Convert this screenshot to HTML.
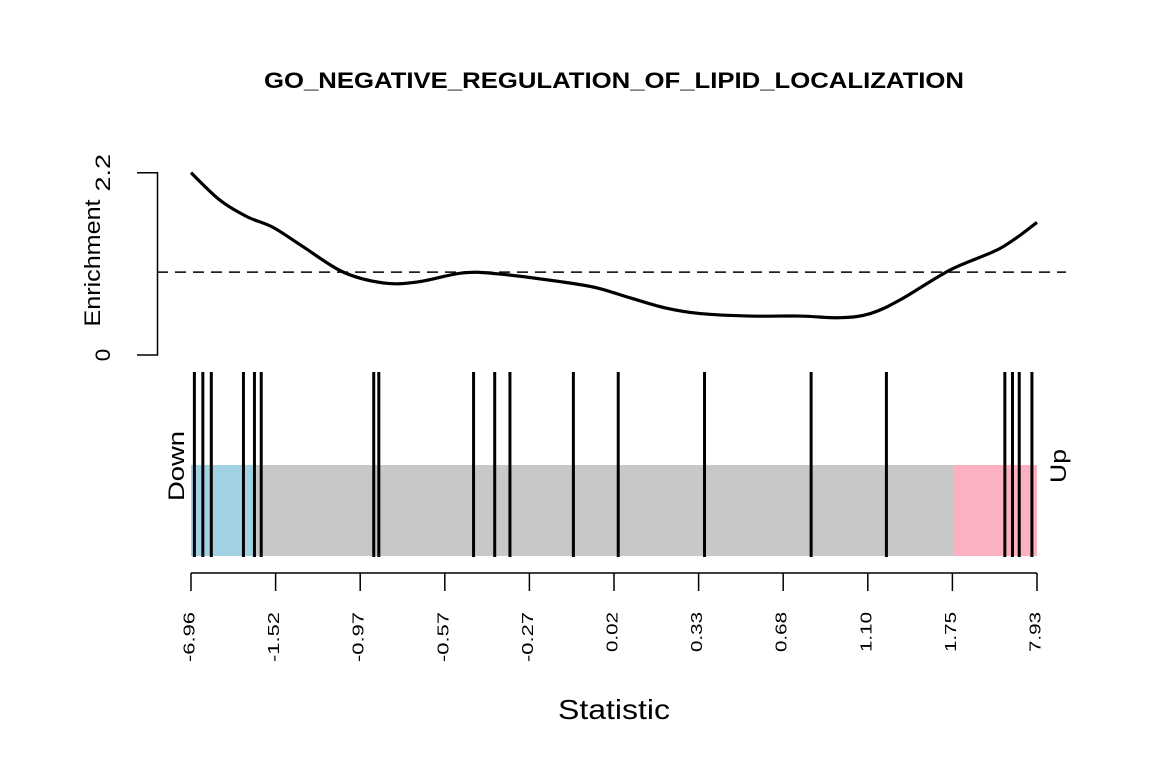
<!DOCTYPE html>
<html><head><meta charset="utf-8"><style>
html,body{margin:0;padding:0;background:#fff;}
svg{display:block;font-family:"Liberation Sans",Arial,sans-serif;}
</style></head><body>
<svg id="chart" width="1152" height="768" viewBox="0 0 1152 768">
<text x="614" y="88" font-size="22" font-weight="bold" text-anchor="middle" textLength="700" lengthAdjust="spacingAndGlyphs">GO_NEGATIVE_REGULATION_OF_LIPID_LOCALIZATION</text>
<g id="topPanel"></g>
<g id="botPanel"></g>
<text x="614" y="719" font-size="28" text-anchor="middle" textLength="112" lengthAdjust="spacingAndGlyphs">Statistic</text>
</svg>
<script>
const curveX = [0,0.034,0.066,0.097,0.132,0.180,0.227,0.267,0.321,0.362,0.440,0.480,0.519,0.560,0.602,0.661,0.720,0.768,0.803,0.839,0.898,0.957,1.0];
const curveY = [2.20,1.87,1.67,1.54,1.31,1.00,0.87,0.88,0.99,0.98,0.88,0.81,0.69,0.57,0.50,0.47,0.47,0.45,0.50,0.67,1.03,1.29,1.60];
const barcodePos = [0.004,0.014,0.024,0.062,0.075,0.083,0.216,0.222,0.334,0.359,0.377,0.452,0.505,0.607,0.733,0.822,0.962,0.971,0.979,0.994];
const downEnd = [0.074];
const upStart = [0.902];
const tickLabels = ["-6.96","-1.52","-0.97","-0.57","-0.27","0.02","0.33","0.68","1.10","1.75","7.93"];
const yTicks = [0,2.2];
const refLine = [1];

const NS="http://www.w3.org/2000/svg";
const X0=191,X1=1037;
const sx=f=>X0+f*(X1-X0);
const sy=v=>355-v*(182.3/2.2);
function mk(parent,tag,attrs){const e=document.createElementNS(NS,tag);for(const k in attrs)e.setAttribute(k,attrs[k]);parent.appendChild(e);return e;}
const topG=document.getElementById('topPanel'), botG=document.getElementById('botPanel');

let ax=mk(topG,'path',{d:`M137 ${sy(yTicks[1])}H157.5V${sy(yTicks[0])}H137`,fill:'none',stroke:'#000','stroke-width':1.5});


yTicks.forEach(v=>{
  const s=String(v);
  const t=mk(topG,'text',{transform:`translate(110,${sy(v)}) rotate(-90)`,'font-size':21,'text-anchor':'middle',textLength:s.length*12.5,lengthAdjust:'spacingAndGlyphs'});
  t.textContent=s;
  
  
});
let yt=mk(topG,'text',{transform:'translate(100,263) rotate(-90)','font-size':22,'text-anchor':'middle',textLength:127,lengthAdjust:'spacingAndGlyphs'});
yt.textContent='Enrichment';



let rl=mk(topG,'line',{x1:157,x2:1066,y1:sy(refLine[0]),y2:sy(refLine[0]),stroke:'#000','stroke-width':1.5,'stroke-dasharray':'11 7'});



const pts=curveX.map((f,i)=>[sx(f),sy(curveY[i])]);
let d=`M${pts[0][0]} ${pts[0][1]}`;
for(let i=0;i<pts.length-1;i++){
  const p0=pts[Math.max(0,i-1)],p1=pts[i],p2=pts[i+1],p3=pts[Math.min(pts.length-1,i+2)];
  d+=` C${p1[0]+(p2[0]-p0[0])/6} ${p1[1]+(p2[1]-p0[1])/6} ${p2[0]-(p3[0]-p1[0])/6} ${p2[1]-(p3[1]-p1[1])/6} ${p2[0]} ${p2[1]}`;
}
let cv=mk(topG,'path',{d:d,fill:'none',stroke:'#000','stroke-width':3.2,'stroke-linejoin':'round'});



let g=mk(botG,'rect',{x:X0,y:465,width:X1-X0,height:91,fill:'#c8c8c8'});


let b=mk(botG,'rect',{x:X0,y:465,width:sx(downEnd[0])-X0,height:91,fill:'#a1d2e3'});


let p=mk(botG,'rect',{x:sx(upStart[0]),y:465,width:X1-sx(upStart[0]),height:91,fill:'#fdb0c0'});


barcodePos.forEach(f=>{
  const l=mk(botG,'line',{x1:sx(f),x2:sx(f),y1:372,y2:557,stroke:'#000','stroke-width':3});
  
  
});
let dn=mk(botG,'text',{transform:'translate(184,466) rotate(-90)','font-size':22,'text-anchor':'middle',textLength:70,lengthAdjust:'spacingAndGlyphs'});
dn.textContent='Down';


let up=mk(botG,'text',{transform:'translate(1066,466) rotate(-90)','font-size':22,'text-anchor':'middle',textLength:34,lengthAdjust:'spacingAndGlyphs'});
up.textContent='Up';



let xa=mk(botG,'line',{x1:X0,x2:X1,y1:573,y2:573,stroke:'#000','stroke-width':1.5});


tickLabels.forEach((lab,i)=>{
  const x=sx(i/(tickLabels.length-1));
  const tk=mk(botG,'line',{x1:x,x2:x,y1:573,y2:591,stroke:'#000','stroke-width':1.5});
  
  
  const t=mk(botG,'text',{transform:`translate(${x+3.5},612) rotate(-90)`,'font-size':16,'text-anchor':'end',textLength:lab.length*10,lengthAdjust:'spacingAndGlyphs'});
  t.textContent=lab;
  
  
});
</script>
</body></html>
